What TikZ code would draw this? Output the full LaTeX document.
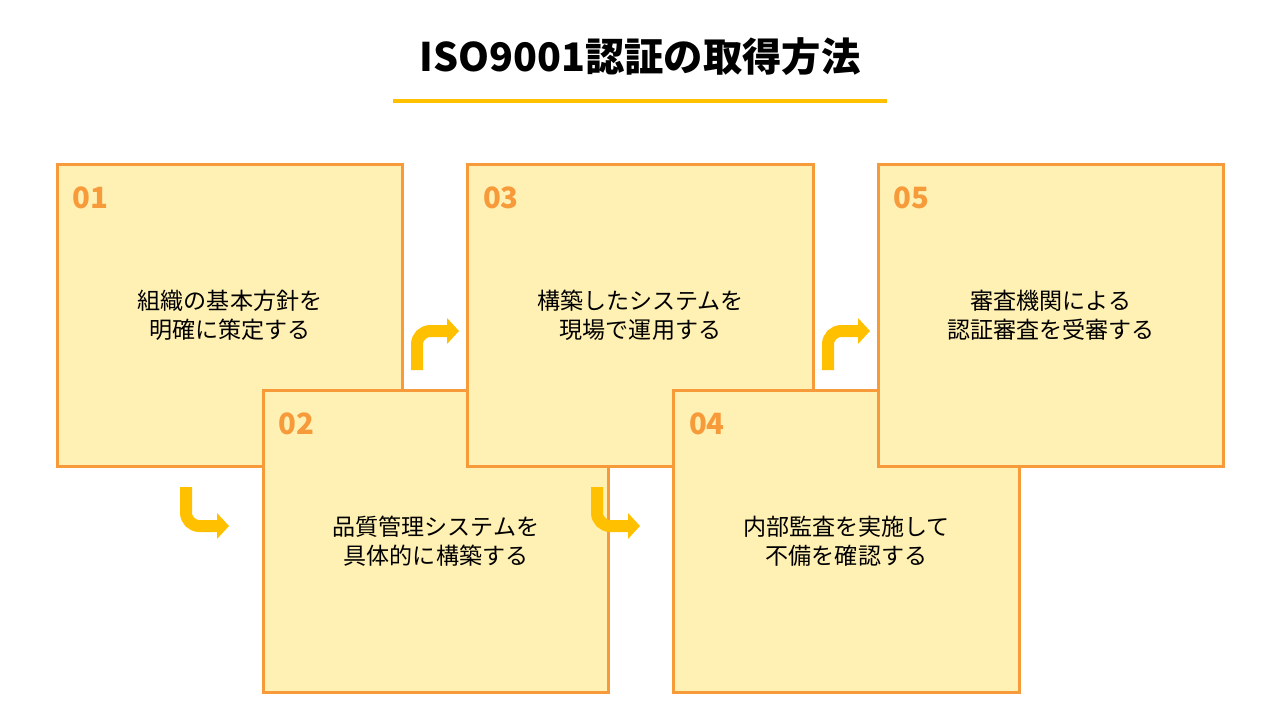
\documentclass[tikz,border=0pt]{standalone}
\usepackage{fontspec}
\setmainfont{Noto Sans CJK JP}
\usetikzlibrary{positioning}
\definecolor{boxfill}{HTML}{FFF0B3}
\definecolor{boxline}{HTML}{F79A3A}
\definecolor{arrowc}{HTML}{FFC000}
\tikzset{
    stepbox/.style={ % one step box
        draw=boxline, fill=boxfill, line width=2.2pt,
        minimum width=259pt, minimum height=227pt,
        align=center, font=\fontsize{17.3}{21.5}\selectfont
    },
    num/.style={
        text=boxline, font=\fontsize{22}{24}\selectfont\bfseries, anchor=west
    },
    turn/.style={ % bent arrow body
        draw=arrowc, line width=9pt, rounded corners=10pt
    },
}
\begin{document}
\begin{tikzpicture}[x=0.75pt, y=-0.75pt]
    \useasboundingbox (0,0) rectangle (1280,720);
    \node[font=\fontsize{29.5}{32}\selectfont\bfseries] (title) at (640,57) {ISO9001認証の取得方法};
    \draw[arrowc, line width=3pt] (393,101) -- (887,101);
    % steps, later ones on top
    \node[stepbox] (s1) at (230,315.5) {組織の基本方針を\\明確に策定する};
    \node[stepbox] (s2) at (436,541.5) {品質管理システムを\\具体的に構築する};
    \node[stepbox] (s3) at (640.5,315.5) {構築したシステムを\\現場で運用する};
    \node[stepbox] (s4) at (846.5,541.5) {内部監査を実施して\\不備を確認する};
    \node[stepbox] (s5) at (1051,315.5) {審査機関による\\認証審査を受審する};
    \foreach \s/\t in {s1/01, s2/02, s3/03, s4/04, s5/05}
        \node[num] (n\s) at ([xshift=9pt,yshift=-26pt]\s.north west) {\t};
    % arrows
    \foreach \x in {0,411} {
        \coordinate (a\x) at (186+\x,487);
        \coordinate (b\x) at (186+\x,526);
        \coordinate (c\x) at (218+\x,526);
        \draw[turn] (a\x) -- (b\x) -- (c\x);
        \fill[arrowc] (217+\x,513) -- (229+\x,526) -- (217+\x,539) -- cycle;
    }
    \foreach \x in {0,411} {
        \coordinate (d\x) at (417+\x,370);
        \coordinate (e\x) at (417+\x,331);
        \coordinate (f\x) at (448+\x,331);
        \draw[turn] (d\x) -- (e\x) -- (f\x);
        \fill[arrowc] (447+\x,318) -- (459+\x,331) -- (447+\x,344) -- cycle;
    }
\end{tikzpicture}
\end{document}
